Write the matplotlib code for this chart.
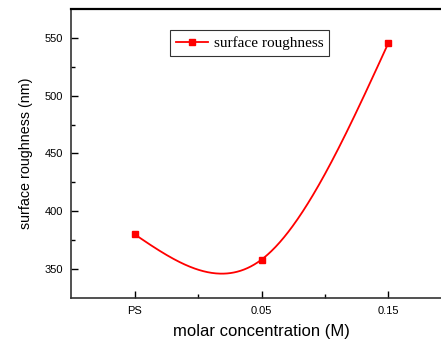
import numpy as np
import matplotlib
matplotlib.use("Agg")
import matplotlib.pyplot as plt

categories = ["PS", "0.05", "0.15"]
roughness = [380, 358, 546]

def natural_spline(x, y, xs):
    x = np.asarray(x, float); y = np.asarray(y, float)
    n = len(x)
    h = np.diff(x)
    A = np.zeros((n, n)); r = np.zeros(n)
    A[0, 0] = 1; A[-1, -1] = 1
    for i in range(1, n - 1):
        A[i, i - 1] = h[i - 1]; A[i, i] = 2 * (h[i - 1] + h[i]); A[i, i + 1] = h[i]
        r[i] = 6 * ((y[i + 1] - y[i]) / h[i] - (y[i] - y[i - 1]) / h[i - 1])
    M = np.linalg.solve(A, r)
    out = np.empty_like(xs)
    for k, t in enumerate(xs):
        i = min(max(np.searchsorted(x, t) - 1, 0), n - 2)
        a = x[i + 1] - t; b = t - x[i]
        out[k] = (M[i] * a**3 + M[i + 1] * b**3) / (6 * h[i]) + (y[i] / h[i] - M[i] * h[i] / 6) * a + (y[i + 1] / h[i] - M[i + 1] * h[i] / 6) * b
    return out

W, H = 441, 342
fig = plt.figure(figsize=(W / 100, H / 100), dpi=100)
ax = fig.add_axes([71 / W, 1 - 297.7 / H, 381 / W, (297.7 - 9.3) / H])

xpos = np.arange(len(categories))
xs = np.linspace(xpos[0], xpos[-1], 300)
ax.plot(xs, natural_spline(xpos, roughness, xs), color="red", lw=1.3)
ax.plot(xpos, roughness, "s", color="red", ms=4.5, lw=0)
ax.plot([], [], "-s", color="red", ms=4.5, lw=1.3, label="surface roughness")

ax.set_xlim(-0.5, 2.5)
ax.set_ylim(325, 575)
ax.set_xticks(xpos)
ax.set_xticklabels(categories, fontfamily="Liberation Sans", fontsize=8)
ax.set_xticks([0.5, 1.5], minor=True)
ax.set_yticks([350, 400, 450, 500, 550])
ax.set_yticks([375, 425, 475, 525], minor=True)
for lab in ax.get_yticklabels():
    lab.set_fontfamily("Liberation Sans"); lab.set_fontsize(8)
ax.tick_params(which="major", direction="in", length=5, width=1, pad=6)
ax.tick_params(which="minor", direction="in", length=3, width=1)
ax.spines["right"].set_visible(False)
for s in ["left", "bottom"]:
    ax.spines[s].set_linewidth(1.2)
    ax.spines[s].set_color("#333333")
ax.spines["top"].set_linewidth(1.6)

ax.set_xlabel("molar concentration (M)", fontfamily="Liberation Sans", fontsize=12, labelpad=6)
ax.set_ylabel("surface roughness (nm)", fontfamily="Liberation Sans", fontsize=10.3, labelpad=8)

leg = ax.legend(loc="upper left", bbox_to_anchor=((170 - 71) / 381, 1 - (30 - 9.3) / 288.4),
                prop={"family": "Liberation Serif", "size": 11}, frameon=True, fancybox=False,
                borderpad=0.4, handlelength=2.1, handletextpad=0.35, borderaxespad=0)
leg.get_frame().set_edgecolor("black")
leg.get_frame().set_linewidth(0.8)

fig.savefig("out.png", dpi=100)
